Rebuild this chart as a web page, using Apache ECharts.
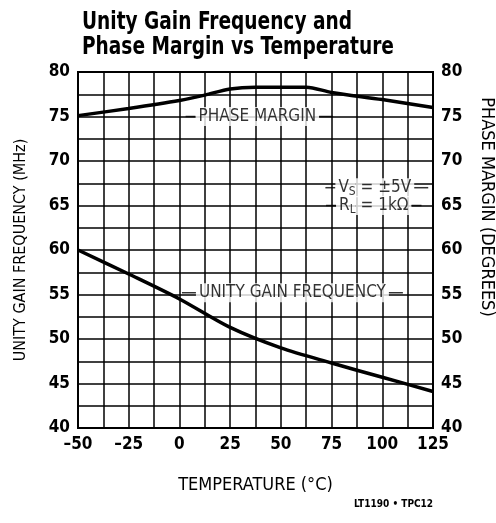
<!DOCTYPE html>
<html lang="en">
  <head>
    <meta charset="UTF-8" />
    <title>Unity Gain Frequency and Phase Margin vs Temperature</title>
    <script src="https://cdn.jsdelivr.net/npm/echarts@6/dist/echarts.min.js"></script>
  </head>
  <style>
    html, body { margin: 0; padding: 0; background: #fff; }
    #box { width: 496px; height: 523px; }
  </style>
  <body>
    <div id="box"></div>
  </body>
  <script>
    // 数据
    var temps = [-50, -25, 0, 12.5, 25, 37.5, 50, 62.5, 75, 100, 125];
    var phaseMargin = [75.1, 75.9, 76.8, 77.4, 78.1, 78.3, 78.3, 78.3, 77.7, 76.9, 76.0];
    var ugfTemps = [-50, -25, 0, 25, 50, 75, 100, 125];
    var unityGain = [60, 57.3, 54.5, 51.3, 49, 47.3, 45.7, 44.1];

    // annotation text: [temp, value, kind]
    var notes = [
      [39.4, 75, "pm"],
      [55.7, 55.2, "ugf"],
      [97.3, 67, "vs"],
      [95.8, 65, "rl"],
    ];

    var FONT = "'Liberation Sans Narrow', 'DejaVu Sans Condensed', sans-serif";

    function pairs(xs, ys) {
      return xs.map(function (x, i) { return [x, ys[i]]; });
    }

    var txt = { fontFamily: FONT, color: "#000", backgroundColor: "#fff", textBorderWidth: 0 };
    var rich = {
      ln: { width: 10, height: 1.5, backgroundColor: "#000" },
      ln2: { width: 14, height: 1.5, backgroundColor: "#000" },
      t: Object.assign({ fontSize: 17, padding: [1, 3] }, txt),
      v: Object.assign({ fontSize: 17, padding: [1, 0, 1, 3] }, txt),
      s: Object.assign({ fontSize: 12, padding: [8, 0, 0, 0] }, txt),
      v2: Object.assign({ fontSize: 17, padding: [1, 3, 1, 0] }, txt),
    };

    function noteText(kind) {
      if (kind === "pm") return "{ln|}{t|PHASE MARGIN}{ln2|}";
      if (kind === "ugf") return "{ln2|}{t|UNITY GAIN FREQUENCY}{ln2|}";
      if (kind === "vs") return "{ln|}{v|V}{s|S}{v2| = ±5V}{ln2|}";
      return "{ln|}{v|R}{s|L}{v2| = 1kΩ}{ln|}";
    }

    var myChart = echarts.init(document.getElementById("box"));
    var option = {
      backgroundColor: "#fff",
      animation: false,
      graphic: [
        {
          type: "text",
          x: 82,
          y: 10,
          scaleX: 0.86,
          style: {
            text: "Unity Gain Frequency and\nPhase Margin vs Temperature",
            font: "bold 24px " + FONT,
            lineHeight: 25,
            fill: "#000",
          },
        },
        {
          type: "text",
          left: 354,
          top: 499,
          style: { text: "LT1190 • TPC12", font: "bold 10px " + FONT, fill: "#000" },
        },
      ],
      grid: {
        left: 78,
        right: 63,
        top: 72,
        bottom: 95,
        show: true,
        borderColor: "#000",
        borderWidth: 2,
        containLabel: false,
        outerBoundsMode: "none",
      },
      xAxis: {
        type: "value",
        min: -50,
        max: 125,
        interval: 12.5,
        name: "TEMPERATURE (°C)",
        nameLocation: "middle",
        nameGap: 48,
        nameTextStyle: { fontFamily: FONT, fontSize: 18, color: "#000" },
        axisLine: { show: false },
        axisTick: { show: false },
        splitLine: { show: true, lineStyle: { color: "#000", width: 1.5 } },
        axisLabel: {
          margin: 8,
          fontFamily: FONT,
          fontSize: 17,
          fontWeight: "bold",
          color: "#000",
          formatter: function (v) { return v % 25 === 0 ? String(v).replace("-", "–") : ""; },
        },
      },
      yAxis: [
        {
          type: "value",
          min: 40,
          max: 80,
          interval: 2.5,
          position: "left",
          name: "UNITY GAIN FREQUENCY (MHz)",
          nameLocation: "middle",
          nameGap: 49,
          nameTextStyle: { fontFamily: FONT, fontSize: 16, color: "#000" },
          axisLine: { show: false },
          axisTick: { show: false },
          splitLine: { show: true, lineStyle: { color: "#000", width: 1.5 } },
          axisLabel: {
            margin: 8,
            fontFamily: FONT,
            fontSize: 17,
            fontWeight: "bold",
            color: "#000",
            formatter: function (v) { return v % 5 === 0 ? v : ""; },
          },
        },
        {
          type: "value",
          min: 40,
          max: 80,
          interval: 2.5,
          position: "right",
          name: "PHASE MARGIN (DEGREES)",
          nameLocation: "middle",
          nameGap: 45,
          nameRotate: -90,
          nameTextStyle: { fontFamily: FONT, fontSize: 18, color: "#000", padding: [0, 86, 0, 0] },
          axisLine: { show: false },
          axisTick: { show: false },
          splitLine: { show: false },
          axisLabel: {
            margin: 8,
            fontFamily: FONT,
            fontSize: 17,
            fontWeight: "bold",
            color: "#000",
            formatter: function (v) { return v % 5 === 0 ? v : ""; },
          },
        },
      ],
      series: [
        {
          name: "Phase Margin",
          type: "line",
          yAxisIndex: 1,
          smooth: 0.3,
          symbol: "none",
          lineStyle: { color: "#000", width: 3.5 },
          data: pairs(temps, phaseMargin),
          z: 3,
        },
        {
          name: "Unity Gain Frequency",
          type: "line",
          yAxisIndex: 0,
          smooth: 0.3,
          symbol: "none",
          lineStyle: { color: "#000", width: 3.5 },
          data: pairs(ugfTemps, unityGain),
          z: 3,
        },
        {
          name: "notes",
          type: "scatter",
          yAxisIndex: 0,
          symbolSize: 0,
          z: 5,
          silent: true,
          data: notes.map(function (n) { return { value: [n[0], n[1]], kind: n[2] }; }),
          label: {
            show: true,
            position: "inside",
            color: "#000",
            textBorderWidth: 0,
            formatter: function (p) { return noteText(p.data.kind); },
            rich: rich,
          },
        },
      ],
    };
    myChart.setOption(option);
  </script>
</html>
